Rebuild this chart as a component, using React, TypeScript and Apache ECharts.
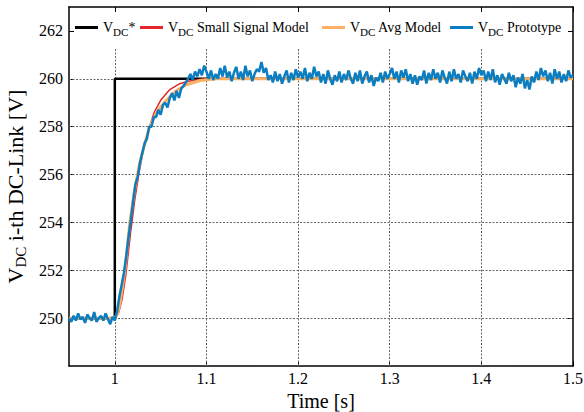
import React, { useEffect, useRef } from 'react';
import * as echarts from 'echarts';

// ---- data ----
const refTime = [0.95, 1.0, 1.0, 1.5];
const refV = [250, 250, 260, 260];

const ssTime = [0.95, 1.0, 1.004, 1.008, 1.012, 1.017, 1.022, 1.027, 1.032, 1.037, 1.043, 1.05, 1.06, 1.07, 1.08, 1.09, 1.1, 1.5];
const ssV = [250, 250, 250.2, 250.8, 251.8, 253.5, 255.0, 256.2, 257.2, 257.9, 258.6, 259.1, 259.55, 259.78, 259.9, 259.96, 260, 260];

const avgTime = [0.95, 1.0, 1.003, 1.006, 1.011, 1.0164, 1.0218, 1.0273, 1.0327, 1.038, 1.0455, 1.056, 1.067, 1.078, 1.093, 1.11, 1.5];
const avgV = [250, 250, 250.2, 250.7, 252.0, 254.0, 255.4, 256.5, 257.3, 258.0, 258.6, 259.1, 259.5, 259.75, 259.93, 260, 260];

const protoStart = 0.95;
const protoStep = 0.0025;
const protoV = [
  // 0.95 - 1.0
  250.0, 249.85, 250.1, 249.9, 250.2, 249.95, 250.05, 249.8, 250.15, 250.0,
  249.9, 250.25, 249.85, 250.0, 250.1, 249.9, 250.2, 249.95, 249.75, 250.05, 249.9,
  // rise 1.0025 - 1.1
  250.3, 250.9, 251.4, 251.9, 252.6, 253.4, 254.1, 254.9, 255.6, 255.9,
  256.5, 256.9, 257.3, 257.5, 258.0, 258.0, 258.4, 258.4, 258.7, 258.5,
  258.9, 259.0, 258.8, 259.2, 259.4, 259.1, 259.5, 259.2, 259.6, 259.7,
  259.85, 260.0, 260.2, 259.95, 260.3, 260.1, 260.4, 260.15, 260.55, 260.3,
  // steady 1.1025 - 1.5
  260.0, 260.35, 259.95, 260.2, 260.0, 260.45, 260.1, 260.55, 260.05, 260.3,
  259.9, 260.25, 260.5, 260.0, 260.3, 259.95, 260.55, 260.1, 260.35, 259.9,
  260.2, 260.4, 260.3, 260.7, 260.25, 260.45, 259.95, 260.15, 259.85, 260.3,
  259.9, 260.2, 259.8, 260.1, 260.35, 259.85, 260.25, 259.95, 260.4, 260.05,
  260.3, 260.0, 260.45, 259.9, 260.25, 260.0, 260.5, 260.1, 260.3, 259.85,
  260.2, 259.8, 260.35, 260.0, 259.75, 260.15, 259.9, 260.3, 259.85, 260.2,
  259.95, 260.35, 260.0, 259.8, 260.25, 259.9, 260.35, 259.8, 260.1, 260.3,
  259.85, 260.15, 259.7, 260.05, 259.9, 260.25, 259.85, 260.3, 260.0, 260.2,
  260.45, 260.0, 260.3, 259.85, 260.35, 260.05, 260.4, 259.9, 260.2, 259.8,
  260.15, 259.75, 260.1, 259.95, 260.35, 259.8, 260.25, 259.95, 260.4, 260.0,
  260.25, 259.85, 260.35, 260.05, 259.8, 260.3, 259.9, 260.4, 260.0, 260.2,
  259.85, 260.35, 260.1, 259.9, 260.25, 259.8, 260.3, 260.0, 260.45, 260.15,
  260.35, 259.9, 260.3, 259.95, 260.4, 259.85, 260.15, 259.75, 260.2, 260.0,
  259.8, 260.25, 259.9, 260.15, 259.65, 260.05, 259.8, 260.2, 259.6, 259.95,
  259.55, 260.1, 259.85, 260.3, 259.95, 260.45, 260.1, 260.35, 259.9, 260.25,
  259.8, 260.4, 260.0, 260.3, 259.85, 260.2, 259.9, 260.35, 260.05, 260.15,
];

const xTicks = [1, 1.1, 1.2, 1.3, 1.4, 1.5];
const yTicks = [250, 252, 254, 256, 258, 260, 262];
const xGridLines = [1, 1.1, 1.2, 1.3, 1.4];
const yGridLines = [250, 252, 254, 256, 258, 260];

const FONT = '"Liberation Serif", "Times New Roman", serif';

const legendLabels: Record<string, string> = {
  ref: '{v|V}{s|DC}{v|*}',
  ss: '{v|V}{s|DC}{v| Small Signal Model}',
  avg: '{v|V}{s|DC}{v| Avg Model}',
  proto: '{v|V}{s|DC}{v| Prototype}',
};

const legendRich = {
  v: { fontSize: 14, fontFamily: FONT, color: '#000', lineHeight: 14, verticalAlign: 'middle' },
  s: { fontSize: 11, fontFamily: FONT, color: '#000', lineHeight: 10, padding: [8, 0, 0, 0], verticalAlign: 'middle' },
};

function zip(a: number[], b: number[]) {
  return a.map((x, i) => [x, b[i]]);
}

function makeLegend(name: string, left: number) {
  return {
    data: [name],
    left,
    top: 18,
    padding: 0,
    icon: 'rect',
    itemWidth: 23,
    itemHeight: 3,
    selectedMode: false,
    formatter: (n: string) => legendLabels[n],
    textStyle: { rich: legendRich, fontFamily: FONT, fontSize: 14, color: '#000' },
  };
}

export default function App() {
  const ref = useRef<HTMLDivElement>(null);
  useEffect(() => {
    document.body.style.margin = '0';
    if (!ref.current) return;
    const chart = echarts.init(ref.current, null, { renderer: 'svg' });
    const protoData = protoV.map((v, i) => [protoStart + i * protoStep, v]);
    const gridStyle = { color: '#666', width: 1, type: [2, 1.5] as any };
    const markData: any[] = [];
    yGridLines.forEach((y) => markData.push({ yAxis: y }));
    xGridLines.forEach((x) => markData.push([{ coord: [x, 248] }, { coord: [x, 261.3] }]));

    const option: any = {
      animation: false,
      backgroundColor: '#fff',
      grid: { left: 69, right: 11, top: 7, bottom: 46, containLabel: false, outerBoundsMode: 'none' },
      legend: [
        makeLegend('ref', 75),
        makeLegend('ss', 140),
        makeLegend('avg', 322),
        makeLegend('proto', 450),
      ],
      xAxis: [
        {
          type: 'value',
          min: 0.95,
          max: 1.5,
          position: 'bottom',
          axisLine: { show: true, onZero: false, lineStyle: { color: '#000', width: 1.5 } },
          axisTick: { show: true, inside: true, length: 5, customValues: xTicks, lineStyle: { color: '#000' } },
          axisLabel: {
            customValues: xTicks,
            formatter: (v: number) => String(+v.toFixed(2)),
            fontSize: 16,
            fontFamily: FONT,
            color: '#000',
            margin: 4,
          },
          splitLine: { show: false },
          name: 'Time [s]',
          nameLocation: 'middle',
          nameGap: 15,
          nameTextStyle: { fontSize: 20, fontFamily: FONT, color: '#000' },
        },
        {
          type: 'value',
          min: 0.95,
          max: 1.5,
          position: 'top',
          axisLine: { show: true, onZero: false, lineStyle: { color: '#000', width: 1.5 } },
          axisTick: { show: true, inside: true, length: 5, customValues: xTicks, lineStyle: { color: '#000' } },
          axisLabel: { show: false },
          splitLine: { show: false },
        },
      ],
      yAxis: [
        {
          type: 'value',
          min: 248,
          max: 263,
          interval: 2,
          position: 'left',
          axisLine: { show: true, onZero: false, lineStyle: { color: '#000', width: 1.5 } },
          axisTick: { show: true, inside: true, length: 5, customValues: yTicks, lineStyle: { color: '#000' } },
          axisLabel: {
            customValues: yTicks,
            formatter: (v: number) => (v === 248 || v === 263 ? '' : String(v)),
            fontSize: 16,
            fontFamily: FONT,
            color: '#000',
            margin: 6,
          },
          splitLine: { show: false },
          name: '{v|V}{s|DC}{v| i-th DC-Link [V]}',
          nameLocation: 'middle',
          nameGap: 38,
          nameTextStyle: {
            rich: {
              v: { fontSize: 22, fontFamily: FONT, color: '#000', lineHeight: 22, verticalAlign: 'middle' },
              s: { fontSize: 15, fontFamily: FONT, color: '#000', lineHeight: 15, padding: [11, 0, 0, 0], verticalAlign: 'middle' },
            },
          },
        },
        {
          type: 'value',
          min: 248,
          max: 263,
          interval: 2,
          position: 'right',
          axisLine: { show: true, onZero: false, lineStyle: { color: '#000', width: 1.5 } },
          axisTick: { show: true, inside: true, length: 5, customValues: yTicks, lineStyle: { color: '#000' } },
          axisLabel: { show: false },
          splitLine: { show: false },
        },
      ],
      series: [
        {
          name: 'ref',
          type: 'line',
          data: zip(refTime, refV),
          showSymbol: false,
          symbol: 'none',
          lineStyle: { color: '#000', width: 2.5 },
          itemStyle: { color: '#000' },
          z: 2,
          markLine: {
            z: 1,
            silent: true,
            symbol: ['none', 'none'],
            label: { show: false },
            lineStyle: gridStyle,
            emphasis: { disabled: true },
            data: markData,
          },
        },
        {
          name: 'ss',
          type: 'line',
          data: zip(ssTime, ssV),
          showSymbol: false,
          symbol: 'none',
          lineStyle: { color: '#e3262b', width: 1.5 },
          itemStyle: { color: '#e3262b' },
          z: 3,
        },
        {
          name: 'avg',
          type: 'line',
          data: zip(avgTime, avgV),
          showSymbol: false,
          symbol: 'none',
          lineStyle: { color: '#fbb063', width: 3 },
          itemStyle: { color: '#fbb063' },
          z: 4,
        },
        {
          name: 'proto',
          type: 'line',
          data: protoData,
          showSymbol: false,
          symbol: 'none',
          lineStyle: { color: '#0b7dc1', width: 2.5 },
          itemStyle: { color: '#0b7dc1' },
          z: 5,
        },
      ],
    };
    chart.setOption(option);
    return () => chart.dispose();
  }, []);
  return <div ref={ref} style={{ width: 584, height: 412 }} />;
}
